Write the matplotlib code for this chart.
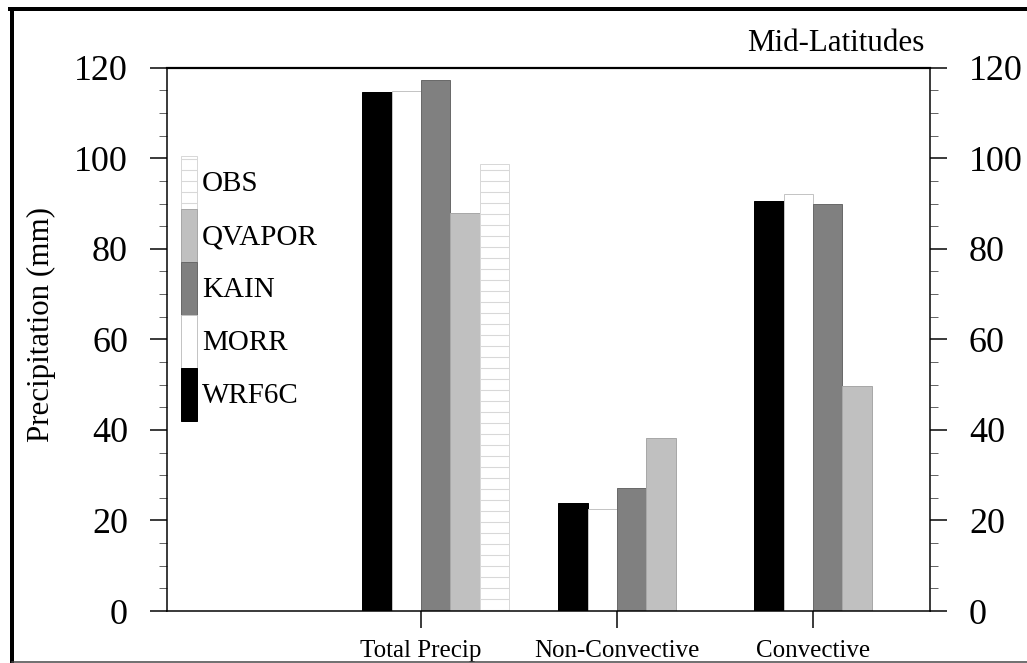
import numpy as np
import matplotlib.pyplot as plt
from matplotlib.lines import Line2D
from matplotlib.ticker import MultipleLocator

plt.rcParams['font.family'] = ['Liberation Serif', 'DejaVu Serif']
plt.rcParams['hatch.linewidth'] = 0.6

DPI = 132

def px(v):
    # pixel size -> points at this dpi
    return v * 72.0 / DPI

categories = ['Total Precip', 'Non-Convective', 'Convective']
wrf6c = [114.6, 23.9, 90.6]
morr = [114.8, 22.5, 92.2]
kain = [117.2, 27.2, 89.8]
qvapor = [88.0, 38.3, 49.7]
obs = [98.7]          # only for Total Precip
yticks = [0, 20, 40, 60, 80, 100, 120]

fig = plt.figure(figsize=(1027 / DPI, 663 / DPI), dpi=DPI)
ax = fig.add_axes([167 / 1027, 1 - 611 / 663, 763 / 1027, 543.3 / 663])

x = np.arange(len(categories))
w = 0.15
lw = px(1.0)
series = [
    ('WRF6C', wrf6c, 'black', 'black'),
    ('MORR', morr, 'white', '#c4c4c4'),
    ('KAIN', kain, '#808080', '#6a6a6a'),
    ('QVAPOR', qvapor, '#c0c0c0', '#a8a8a8'),
]
handles = []
for i, (name, vals, fc, ec) in enumerate(series):
    b = ax.bar(x + (i - 2) * w, vals, width=w, align='edge', color=fc,
               edgecolor=ec, linewidth=lw, label=name)
    handles.append(b)
b = ax.bar(x[:len(obs)] + 2 * w, obs, width=w, align='edge', color='white',
           edgecolor='#d8d8d8', linewidth=lw, hatch='--', label='OBS')
handles.append(b)

ax.set_xlim(-1.296, 2.597)
ax.set_ylim(0, 120)
ax.set_xticks(x)
ax.set_xticklabels(categories, fontsize=px(25))
ax.set_yticks(yticks)
ax.set_yticklabels([str(v) for v in yticks], fontsize=px(36))
ax.yaxis.set_minor_locator(MultipleLocator(5))
ax.tick_params(axis='x', direction='out', length=px(17), width=px(1.5), pad=px(12),
               top=False)
ax.tick_params(axis='y', which='major', direction='out', length=px(17), width=px(1.5),
               pad=px(22), left=True, right=True, labelleft=True, labelright=True)
ax.tick_params(axis='y', which='minor', direction='out', length=px(8), width=px(1.0),
               left=True, right=True, color='#666666')
for s in ax.spines.values():
    s.set_linewidth(px(1.5))
ax.spines['top'].set_linewidth(px(2.2))

# legend boxes 16x53 px, stacked with no gap
hh = (53 / 29 - 0.245) / 0.65
leg = ax.legend(handles[::-1], [h.get_label() for h in handles[::-1]],
                loc='upper left', bbox_to_anchor=(14 / 763, (611 - 156) / 543.3),
                frameon=False, borderpad=0, borderaxespad=0, labelspacing=0,
                handlelength=16 / 29, handleheight=hh, handletextpad=5 / 29,
                fontsize=px(29))

ax.text(0.9934, (611 - 51) / 543.3, 'Mid-Latitudes', transform=ax.transAxes,
        ha='right', va='baseline', fontsize=px(31))
fig.text(41 / 1027, 1 - 325 / 663, 'Precipitation (mm)', rotation=90,
         ha='center', va='center', fontsize=px(31))

# outer frame
fig.add_artist(Line2D([12 / 1027, 12 / 1027], [0, 1 - 9 / 663], transform=fig.transFigure,
                      color='black', linewidth=px(4)))
fig.add_artist(Line2D([10 / 1027, 1], [1 - 9 / 663, 1 - 9 / 663], transform=fig.transFigure,
                      color='black', linewidth=px(4)))
fig.add_artist(Line2D([12 / 1027, 1], [1 - 662 / 663, 1 - 662 / 663], transform=fig.transFigure,
                      color='#444444', linewidth=px(1.5)))

fig.savefig('out.png', dpi=DPI)
